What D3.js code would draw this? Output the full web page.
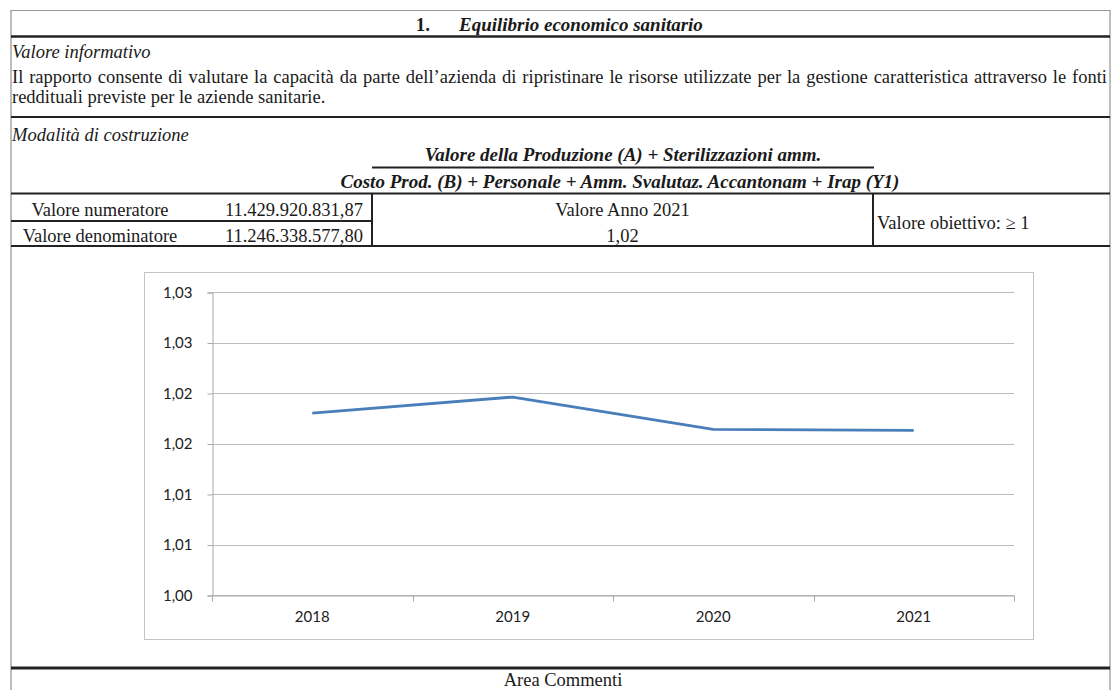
<!DOCTYPE html>
<html>
<head>
<meta charset="utf-8">
<script src="https://cdn.jsdelivr.net/npm/d3@7"></script>
<style>
  body { margin: 0; background: #fff; }
</style>
</head>
<body>
<script>
// chart data
const years = ["2018", "2019", "2020", "2021"]
const ratios = [1.0180, 1.0196, 1.0164, 1.0163]
const yTicks = [1.000, 1.005, 1.010, 1.015, 1.020, 1.025, 1.030]
const yTickLabels = ["1,00", "1,01", "1,01", "1,02", "1,02", "1,03", "1,03"]

// table texts
const titleNumber = "1."
const title = "Equilibrio economico sanitario"
const infoHeading = "Valore informativo"
const infoLines = [
      "Il rapporto consente di valutare la capacità da parte dell’azienda di ripristinare le risorse utilizzate per la gestione caratteristica attraverso le fonti",
      "reddituali previste per le aziende sanitarie."
]
const buildHeading = "Modalità di costruzione"
const numerator = "Valore della Produzione (A) + Sterilizzazioni amm."
const denominator = "Costo Prod. (B) + Personale + Amm. Svalutaz. Accantonam + Irap (Y1)"
const rowLabels = ["Valore numeratore", "Valore denominatore"]
const rowValues = ["11.429.920.831,87", "11.246.338.577,80"]
const yearLabel = "Valore Anno 2021"
const yearValue = "1,02"
const targetLabel = "Valore obiettivo: ≥ 1"
const commentsLabel = "Area Commenti"

const width = 1112
const height = 690
const serif = "'Liberation Serif', 'Times New Roman', serif"
const fontSize = 18.5
const boldSize = 19
const ink = "#1a1a1a"

const tableLeft = 11
const tableRight = 1110
const col1 = 372 // left cell / middle cell
const col2 = 873 // middle cell / target cell

// chart box and plot area
const box = { left: 144, top: 272, right: 1033, bottom: 639 }
const plot = { left: 212, top: 292, right: 1014, bottom: 595 }

const svg = d3.select("body").append("svg")
      .attr("width", width)
      .attr("height", height)
      .attr("viewBox", [0, 0, width, height])
      .style("display", "block")

svg.append("rect")
      .attr("width", width)
      .attr("height", height)
      .attr("fill", "#fff")

// ---- table frame ----
const frame = svg.append("g").attr("stroke", "#222").attr("fill", "none")

function hline(y, x1, x2, w, color = "#222") {
      frame.append("line")
            .attr("x1", x1).attr("x2", x2)
            .attr("y1", y).attr("y2", y)
            .attr("stroke-width", w)
            .attr("stroke", color)
}
function vline(x, y1, y2, w, color = "#222") {
      frame.append("line")
            .attr("x1", x).attr("x2", x)
            .attr("y1", y1).attr("y2", y2)
            .attr("stroke-width", w)
            .attr("stroke", color)
}

hline(10.5, tableLeft, tableRight, 1, "#9a9a9a")
vline(tableLeft, 10, height, 1, "#7a7a7a")
vline(tableRight, 10, height, 1, "#7a7a7a")
hline(36.5, tableLeft, tableRight, 2.5)
hline(117, tableLeft, tableRight, 2)
hline(193.5, tableLeft, tableRight, 2)
hline(221, tableLeft, col1, 2)
hline(246, tableLeft, tableRight, 2)
vline(col1, 193, 246, 2)
vline(col2, 193, 246, 2)
hline(167.5, 372, 874, 1.8)
hline(668, tableLeft, tableRight, 3)

// ---- table texts ----
const texts = svg.append("g")
      .attr("font-family", serif)
      .attr("font-size", fontSize)
      .attr("fill", ink)

texts.append("text")
      .attr("x", 430).attr("y", 31)
      .attr("font-size", boldSize)
      .attr("font-weight", "bold")
      .attr("text-anchor", "end")
      .text(titleNumber)
texts.append("text")
      .attr("x", 459).attr("y", 31)
      .attr("font-size", boldSize)
      .attr("font-weight", "bold")
      .attr("font-style", "italic")
      .text(title)

texts.append("text")
      .attr("x", 12).attr("y", 58)
      .attr("font-style", "italic")
      .text(infoHeading)

// justified first line, word by word
function justify(line, x0, x1, y) {
      const words = line.split(" ")
      const nodes = words.map(w => texts.append("text").attr("y", y).text(w))
      const widths = nodes.map(n => n.node().getComputedTextLength())
      const gap = (x1 - x0 - d3.sum(widths)) / (words.length - 1)
      let x = x0
      nodes.forEach((n, i) => {
            n.attr("x", x)
            x += widths[i] + gap
      })
}
justify(infoLines[0], 12, 1107, 83)
texts.append("text")
      .attr("x", 12).attr("y", 103)
      .text(infoLines[1])

texts.append("text")
      .attr("x", 12).attr("y", 141)
      .attr("font-style", "italic")
      .text(buildHeading)

texts.append("text")
      .attr("x", 623).attr("y", 161)
      .attr("text-anchor", "middle")
      .attr("font-size", boldSize)
      .attr("font-weight", "bold")
      .attr("font-style", "italic")
      .text(numerator)
texts.append("text")
      .attr("x", 620).attr("y", 188)
      .attr("text-anchor", "middle")
      .attr("font-size", boldSize)
      .attr("font-weight", "bold")
      .attr("font-style", "italic")
      .text(denominator)

texts.selectAll(".row-label")
      .data(rowLabels)
      .join("text")
      .attr("class", "row-label")
      .attr("x", 100)
      .attr("y", (d, i) => 216 + i * 26)
      .attr("text-anchor", "middle")
      .text(d => d)
texts.selectAll(".row-value")
      .data(rowValues)
      .join("text")
      .attr("class", "row-value")
      .attr("x", 363)
      .attr("y", (d, i) => 216 + i * 26)
      .attr("text-anchor", "end")
      .text(d => d)

texts.append("text")
      .attr("x", (col1 + col2) / 2).attr("y", 216)
      .attr("text-anchor", "middle")
      .text(yearLabel)
texts.append("text")
      .attr("x", (col1 + col2) / 2).attr("y", 242)
      .attr("text-anchor", "middle")
      .text(yearValue)
texts.append("text")
      .attr("x", 877).attr("y", 229)
      .text(targetLabel)

texts.append("text")
      .attr("x", 563).attr("y", 686)
      .attr("text-anchor", "middle")
      .text(commentsLabel)

// ---- chart ----
const xScale = d3.scaleBand(years, [plot.left, plot.right])
const yScale = d3.scaleLinear([1.0, 1.03], [plot.bottom, plot.top])

svg.append("rect")
      .attr("x", box.left + 0.5)
      .attr("y", box.top + 0.5)
      .attr("width", box.right - box.left)
      .attr("height", box.bottom - box.top)
      .attr("fill", "#fff")
      .attr("stroke", "#c4c4c4")

// gridlines
svg.append("g")
      .attr("stroke", "#bdbdbd")
      .selectAll("line")
      .data(yTicks)
      .join("line")
      .attr("x1", plot.left)
      .attr("x2", plot.right)
      .attr("y1", d => Math.round(yScale(d)) + 0.5)
      .attr("y2", d => Math.round(yScale(d)) + 0.5)

// axis y
svg.append("g")
      .attr("transform", `translate(${plot.left + 0.5},0.5)`)
      .call(d3.axisLeft(yScale)
            .tickValues(yTicks)
            .tickFormat((d, i) => yTickLabels[i])
            .tickSize(5)
            .tickPadding(15))
      .call(g => g.select(".domain").attr("stroke", "#a8a8a8"))
      .call(g => g.selectAll(".tick line").attr("stroke", "#a8a8a8"))
      .call(g => g.selectAll(".tick text")
            .attr("font-family", "Lato, 'Open Sans', sans-serif")
            .attr("font-size", 15)
            .attr("fill", "#222"))

// axis x: labels at band centres, tick marks at band edges
svg.append("g")
      .attr("transform", `translate(0,${plot.bottom + 0.5})`)
      .call(d3.axisBottom(xScale).tickSize(0).tickPadding(16))
      .call(g => g.select(".domain").attr("stroke", "#a8a8a8"))
      .call(g => g.selectAll(".tick text")
            .attr("font-family", "Lato, 'Open Sans', sans-serif")
            .attr("font-size", 15)
            .attr("fill", "#222"))
      .call(g => g.append("g")
            .attr("stroke", "#a8a8a8")
            .selectAll("line")
            .data([...years.map(d => xScale(d)), plot.right])
            .join("line")
            .attr("x1", d => Math.round(d) + 0.5)
            .attr("x2", d => Math.round(d) + 0.5)
            .attr("y1", 0)
            .attr("y2", 6))

// series line
const line = d3.line()
      .x((d, i) => xScale(years[i]) + xScale.bandwidth() / 2)
      .y(d => yScale(d))

svg.append("path")
      .datum(ratios)
      .attr("fill", "none")
      .attr("stroke", "#4a7ebb")
      .attr("stroke-width", 2.8)
      .attr("stroke-linejoin", "round")
      .attr("d", line)
</script>
</body>
</html>
